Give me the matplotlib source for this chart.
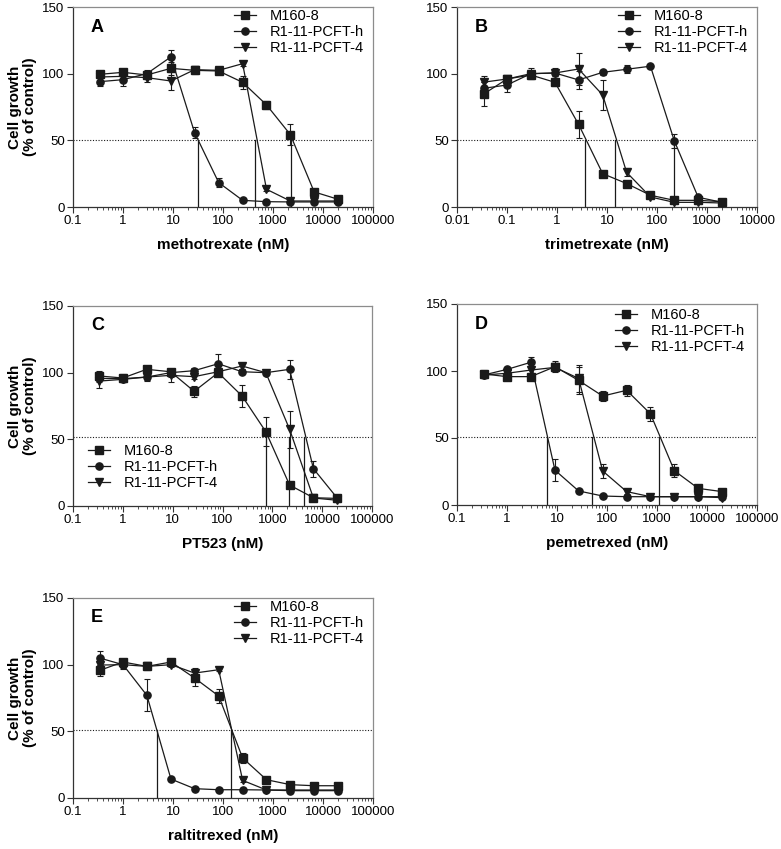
import matplotlib
matplotlib.use("Agg")
import matplotlib.pyplot as plt
from matplotlib.ticker import LogLocator, FixedLocator, NullFormatter

plt.rcParams['font.family'] = ['Liberation Sans', 'DejaVu Sans']

# concentrations (nM)
conc = [0.34, 1.0, 3.0, 9.1, 27, 82, 247, 741, 2222, 6667, 20000]
conc_b = [0.034, 0.10, 0.30, 0.91, 2.7, 8.2, 24.7, 74, 222, 667, 2000]

labels = ["M160-8", "R1-11-PCFT-h", "R1-11-PCFT-4"]
letters = ["A", "B", "C", "D", "E"]
drugs = ["methotrexate (nM)", "trimetrexate (nM)", "PT523 (nM)", "pemetrexed (nM)", "raltitrexed (nM)"]

# A - methotrexate
a_m160 = [99.5, 101, 99, 104, 102.5, 102, 93.5, 76.6, 54.3, 11.3, 5.8]
a_m160_e = [2, 2, 2, 5, 3, 2, 5, 3, 8, 2, 1]
a_h = [94, 95.5, 100, 112.6, 55.8, 18.3, 5, 4, 3.8, 3.8, 3.8]
a_h_e = [3, 5, 3, 5, 4, 3.5, 1, 1, 1, 1, 1]
a_4 = [97.5, 98, 97, 94.5, 103, 102.5, 107.5, 13.3, 4.5, 4.5, 4.5]
a_4_e = [2, 2, 3, 7, 2, 2, 2, 1, 1, 1, 1]
a_ic50 = [31.6, 445, 2240]

# B - trimetrexate
b_m160 = [84.7, 96, 99, 93.5, 62, 25, 17.6, 8.8, 5, 5, 4]
b_m160_e = [9, 2, 3, 3, 10, 1, 2, 1, 1, 1, 1]
b_h = [89, 91.5, 100, 100.5, 95.3, 101, 103.3, 105.6, 49.6, 7.3, 3.5]
b_h_e = [5, 5, 4, 4, 7, 2, 3, 1, 5, 1, 1]
b_4 = [93.6, 96, 100, 100.5, 103.5, 84, 26, 7.5, 3.5, 3.5, 3]
b_4_e = [5, 2, 2, 2, 12, 11, 3, 1, 1, 1, 1]
b_ic50 = [3.7, 14.7, 215]

# C - PT523
c_m160 = [97.5, 96, 102.5, 100.7, 86, 100, 82.5, 55.7, 15.7, 6.2, 5.7]
c_m160_e = [4, 3, 1, 2, 4, 2, 8, 11, 2, 1, 1]
c_h = [95.7, 95.5, 96.7, 100, 101.5, 106.7, 100.7, 100, 102.5, 28, 6]
c_h_e = [3, 2, 3, 3, 2, 7, 2, 2, 7, 6, 1]
c_4 = [93.7, 95, 96.7, 98, 97, 100.7, 105, 100, 57.5, 6, 4.3]
c_4_e = [5, 2, 2, 5, 2, 2, 2, 2, 14, 1, 1]
c_ic50 = [741, 2150, 4270]

# D - pemetrexed
d_m160 = [97.8, 95.8, 95.8, 103.2, 93, 81.3, 85.6, 68, 25.6, 12.4, 10]
d_m160_e = [3, 2, 2, 4, 10, 4, 4, 5, 5, 2, 1]
d_h = [97, 101.2, 106.5, 26, 10.5, 6.7, 6.2, 6.2, 6.2, 6.2, 6.2]
d_h_e = [2, 2, 4, 8, 1, 1, 1, 1, 1, 1, 1]
d_4 = [97, 98.3, 100.7, 102.7, 94.5, 25.4, 10, 6.2, 6.2, 6.2, 5.5]
d_4_e = [2, 2, 2, 3, 10, 5, 2, 1, 1, 1, 1]
d_ic50 = [6.3, 50, 1120]

# E - raltitrexed
e_m160 = [95.7, 102, 98.7, 102, 90, 76.5, 30, 13.7, 10, 9.2, 9.2]
e_m160_e = [4, 2, 3, 2, 6, 5, 4, 2, 1, 1, 1]
e_h = [105, 100, 77, 14.2, 7, 6.2, 6.2, 6, 5.5, 5.5, 5.5]
e_h_e = [5, 3, 12, 1, 1, 1, 1, 1, 1, 1, 1]
e_4 = [99.7, 100, 98.7, 100, 93.7, 96.2, 13.2, 6, 6, 6, 6]
e_4_e = [2, 2, 2, 2, 4, 1, 1, 1, 1, 1, 1]
e_ic50 = [4.8, 147]

# dotted reference level per panel
levels = [50, 50, 51.5, 50.5, 50.7]

panels = [
    (conc, [(a_m160, a_m160_e), (a_h, a_h_e), (a_4, a_4_e)], a_ic50),
    (conc_b, [(b_m160, b_m160_e), (b_h, b_h_e), (b_4, b_4_e)], b_ic50),
    (conc, [(c_m160, c_m160_e), (c_h, c_h_e), (c_4, c_4_e)], c_ic50),
    (conc, [(d_m160, d_m160_e), (d_h, d_h_e), (d_4, d_4_e)], d_ic50),
    (conc, [(e_m160, e_m160_e), (e_h, e_h_e), (e_4, e_4_e)], e_ic50),
]

# axes boxes in pixels (left, top, right, bottom)
boxes = [(73, 7, 373, 207), (457, 7, 757, 207), (73, 306, 372, 506),
         (457, 304, 757, 505), (73, 598, 373, 798)]
xlims = [(0.1, 1e5), (0.01, 1e4), (0.1, 1e5), (0.1, 1e5), (0.1, 1e5)]
leg_pos = [("upper right", (1.0, 1.035)), ("upper right", (1.0, 1.035)),
           ("lower left", (0.02, 0.035)), ("upper right", (0.99, 1.025)),
           ("upper right", (1.0, 1.035))]
markers = ["s", "o", "v"]
msizes = [5.4, 5.2, 5.8]
W, H = 781, 849
col = "#1a1a1a"

fig = plt.figure(figsize=(W / 100, H / 100), dpi=100)

for i, (x, series, ic50) in enumerate(panels):
    l, t, r, b = boxes[i]
    ax = fig.add_axes([l / W, 1 - b / H, (r - l) / W, (b - t) / H])
    ax.set_xscale("log")
    ax.set_xlim(*xlims[i])
    ax.set_ylim(0, 150)

    ax.axhline(levels[i], color=col, ls=(0, (1, 1.5)), lw=0.8, zorder=1)
    for v in ic50:
        ax.plot([v, v], [0, levels[i]], color=col, lw=0.9, zorder=1)

    handles = []
    for (y, e), m, ms, lab in zip(series, markers, msizes, labels):
        ax.errorbar(x, y, yerr=e, fmt="none", ecolor=col, elinewidth=0.8,
                    capsize=2.4, capthick=0.8, zorder=2)
        h, = ax.plot(x, y, color=col, lw=0.9, marker=m, ms=ms, mfc=col, mec=col,
                     label=lab, zorder=3)
        handles.append(h)

    loc, anchor = leg_pos[i]
    ax.legend(handles=handles, loc=loc, bbox_to_anchor=anchor, frameon=False,
              fontsize=10.5, handlelength=1.5, handletextpad=1.0, labelspacing=0.15,
              borderaxespad=0.2)

    ax.text(0.06, 0.9, letters[i], transform=ax.transAxes, fontsize=13,
            fontweight="bold", ha="left", va="center")

    ax.yaxis.set_major_locator(FixedLocator([0, 50, 100, 150]))
    ax.xaxis.set_major_locator(LogLocator(base=10, numticks=12))
    ax.xaxis.set_minor_locator(LogLocator(base=10, subs=range(2, 10), numticks=12))
    ax.xaxis.set_minor_formatter(NullFormatter())
    lo, hi = xlims[i]
    ticks = [t_ for t_ in [0.01, 0.1, 1, 10, 100, 1000, 10000, 100000] if lo <= t_ <= hi]
    ax.set_xticks(ticks)
    ax.set_xticklabels([("%g" % t_) if t_ < 1 else str(int(t_)) for t_ in ticks])
    ax.tick_params(axis="both", which="major", direction="out", length=4,
                   width=0.8, color="#333333", labelsize=9.5, pad=2)
    ax.tick_params(axis="x", which="minor", direction="out", length=2.5,
                   width=0.6, color="#333333")

    for s in ["left", "bottom"]:
        ax.spines[s].set_color("#333333")
        ax.spines[s].set_linewidth(0.9)
    for s in ["top", "right"]:
        ax.spines[s].set_color("#8c8c8c")
        ax.spines[s].set_linewidth(0.9)

    ax.set_xlabel(drugs[i], fontsize=11, fontweight="bold", labelpad=8)
    if i in (0, 2, 4):
        ax.set_ylabel("Cell growth\n(% of control)", fontsize=11,
                      fontweight="bold", labelpad=4, linespacing=1.1)

fig.savefig("out.png", dpi=100)
